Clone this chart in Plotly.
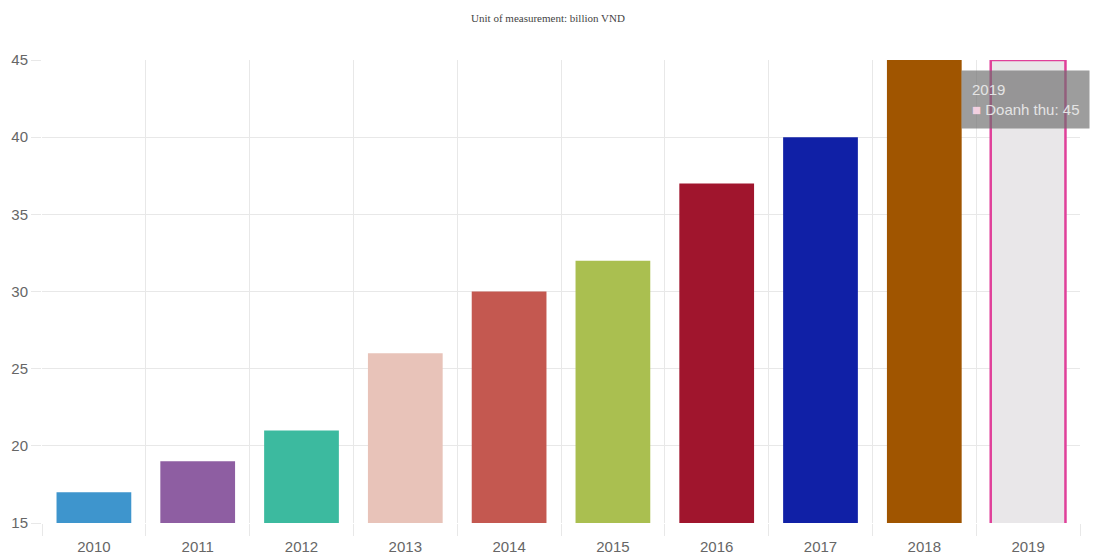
import plotly.graph_objects as go

years = ["2010", "2011", "2012", "2013", "2014", "2015", "2016", "2017", "2018", "2019"]
revenue = [17, 19, 21, 26, 30, 32, 37, 40, 45, 45]
fill_colors = ["#3e95cd", "#8e5ea2", "#3cba9f", "#e8c3b9", "#c45850",
               "#aabf50", "#a0152d", "#1020a6", "#a05500", "#e9e7e9"]
line_colors = fill_colors[:-1] + ["#e0409a"]
line_widths = [0] * 9 + [2.5]
series_name = "Doanh thu"
title_text = "Unit of measurement: billion VND"

fig = go.Figure()
fig.add_trace(go.Bar(
    x=years, y=revenue, name=series_name,
    marker=dict(color=fill_colors, line=dict(color=line_colors, width=line_widths)),
    width=0.72,
))

hi = len(years) - 1
fig.add_annotation(
    x=hi, y=revenue[hi], xref="x", yref="y",
    text=f"{years[hi]}<br><span style='color:#f2d0e0'>■</span> {series_name}: {revenue[hi]}",
    showarrow=False, xanchor="center", yanchor="top", yshift=-10, xshift=-3,
    align="left", bgcolor="rgba(110,110,110,0.68)", borderpad=10,
    font=dict(family="Arial", size=15, color="#e4e4e4"),
)

fig.update_layout(
    width=1096, height=556,
    margin=dict(l=42, r=16, t=60, b=33),
    paper_bgcolor="white", plot_bgcolor="white",
    showlegend=False,
    title=dict(text=title_text, x=0.5, xanchor="center", y=0.975, yanchor="top",
               font=dict(family="Liberation Serif", size=11, color="#444")),
    font=dict(family="Arial", size=14, color="#666"),
)
fig.update_xaxes(type="category", range=[-0.5, len(years) - 0.5], tickson="boundaries",
                 showgrid=True, gridcolor="#e8e8e8", gridwidth=1, ticks="outside",
                 ticklen=12, tickcolor="#e8e8e8", showline=False, zeroline=False,
                 automargin=False, tickangle=0, ticklabelstandoff=13,
                 tickfont=dict(size=15, color="#666"))
fig.update_yaxes(range=[15, 45], dtick=5, showgrid=True, gridcolor="#e8e8e8",
                 ticks="outside", ticklen=10, tickcolor="#e8e8e8", zeroline=False,
                 showline=False, automargin=False, tickfont=dict(size=15, color="#666"))

fig.write_html("out.html")
